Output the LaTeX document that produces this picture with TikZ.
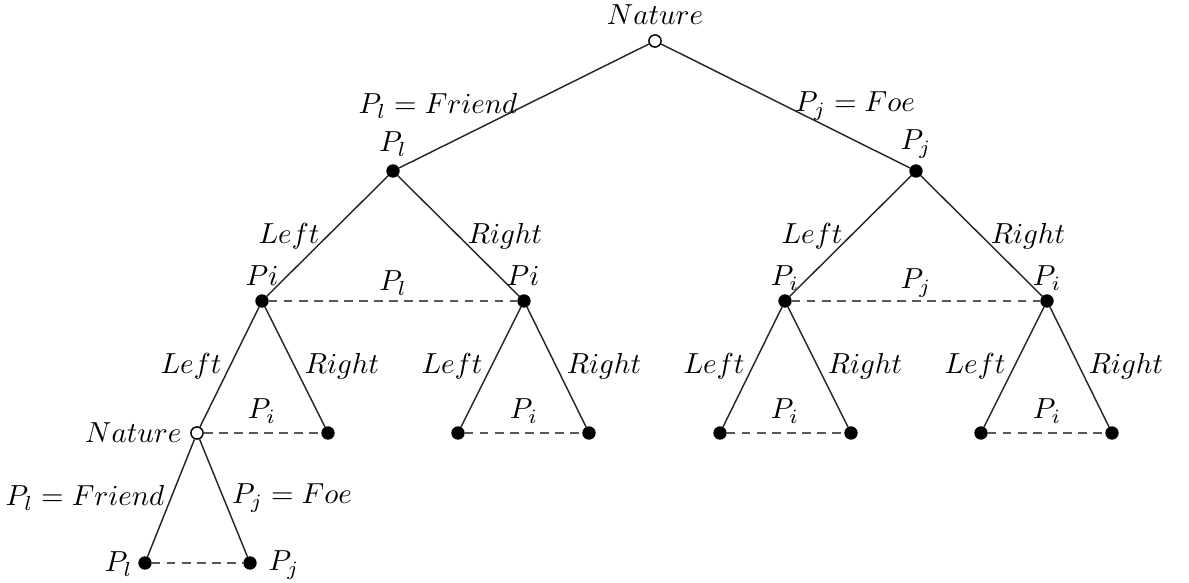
\documentclass[tikz,border=0pt]{standalone}
\begin{document}
\begin{tikzpicture}[x=0.345pt,y=-0.345pt,
  pl/.style={circle,fill=black,draw=black,inner sep=0pt,minimum size=4.2pt},
  nat/.style={circle,fill=white,draw=black,line width=0.5pt,inner sep=0pt,minimum size=4.2pt},
  edge/.style={draw=black!85,line width=0.5pt},
  info/.style={draw=black!65,dashed,line width=0.6pt,dash pattern=on 3pt off 2.2pt},
  lab/.style={inner sep=0pt,font=\fontsize{10}{12}\selectfont}]
\useasboundingbox (0,0) rectangle (1189,583);
% nodes
\node[nat] (r) at (655,41) {};
\node[pl] (a) at (393,171) {};
\node[pl] (b) at (916,171) {};
\node[pl] (a1) at (262,301) {};
\node[pl] (a2) at (524,301) {};
\node[pl] (b1) at (785,301) {};
\node[pl] (b2) at (1047,301) {};
\node[nat] (a11) at (197,433) {};
\node[pl] (a12) at (328,433) {};
\node[pl] (a21) at (458,433) {};
\node[pl] (a22) at (589,433) {};
\node[pl] (b11) at (720,433) {};
\node[pl] (b12) at (851,433) {};
\node[pl] (b21) at (981,433) {};
\node[pl] (b22) at (1112,433) {};
\node[pl] (c1) at (145,563) {};
\node[pl] (c2) at (250,563) {};
% edges
\draw[edge] (r) -- (a);
\draw[edge] (r) -- (b);
\draw[edge] (a) -- (a1);
\draw[edge] (a) -- (a2);
\draw[edge] (b) -- (b1);
\draw[edge] (b) -- (b2);
\draw[edge] (a1) -- (a11);
\draw[edge] (a1) -- (a12);
\draw[edge] (a2) -- (a21);
\draw[edge] (a2) -- (a22);
\draw[edge] (b1) -- (b11);
\draw[edge] (b1) -- (b12);
\draw[edge] (b2) -- (b21);
\draw[edge] (b2) -- (b22);
\draw[edge] (a11) -- (c1);
\draw[edge] (a11) -- (c2);
% information sets
\draw[info] (a1) -- (a2);
\draw[info] (b1) -- (b2);
\draw[info] (a11) -- (a12);
\draw[info] (a21) -- (a22);
\draw[info] (b11) -- (b12);
\draw[info] (b21) -- (b22);
\draw[info] (c1) -- (c2);
% labels
\node[lab] (lr) at (655,15) {$Nature$};
\node[lab] (la) at (393,144) {$P_l$};
\node[lab] (lb) at (916,144) {$P_j$};
\node[lab] (ea) at (438,106) {$P_l = Friend$};
\node[lab] (eb) at (855,106) {$P_j = Foe$};
\node[lab] (la1) at (262,276) {$Pi$};
\node[lab] (la2) at (523,276) {$Pi$};
\node[lab] (lb1) at (785,278) {$P_i$};
\node[lab] (lb2) at (1047,278) {$P_i$};
\node[lab] (ia) at (393,283) {$P_l$};
\node[lab] (ib) at (916,283) {$P_j$};
\node[lab] (e1) at (289,236) {$Left$};
\node[lab] (e2) at (505,236) {$Right$};
\node[lab] (e3) at (812,236) {$Left$};
\node[lab] (e4) at (1028,236) {$Right$};
\node[lab] (f1) at (191,366) {$Left$};
\node[lab] (f2) at (342,366) {$Right$};
\node[lab] (f3) at (452,366) {$Left$};
\node[lab] (f4) at (604,366) {$Right$};
\node[lab] (f5) at (714,366) {$Left$};
\node[lab] (f6) at (865,366) {$Right$};
\node[lab] (f7) at (975,366) {$Left$};
\node[lab] (f8) at (1126,366) {$Right$};
\node[lab] (i1) at (262,411) {$P_i$};
\node[lab] (i2) at (524,411) {$P_i$};
\node[lab] (i3) at (785,411) {$P_i$};
\node[lab] (i4) at (1047,411) {$P_i$};
\node[lab,anchor=east] (ln) at (182,433) {$Nature$};
\node[lab] (g1) at (85,498) {$P_l = Friend$};
\node[lab] (g2) at (292,498) {$P_j = Foe$};
\node[lab,anchor=east] (lc1) at (133,564) {$P_l$};
\node[lab,anchor=west] (lc2) at (268,565) {$P_j$};
\end{tikzpicture}
\end{document}
